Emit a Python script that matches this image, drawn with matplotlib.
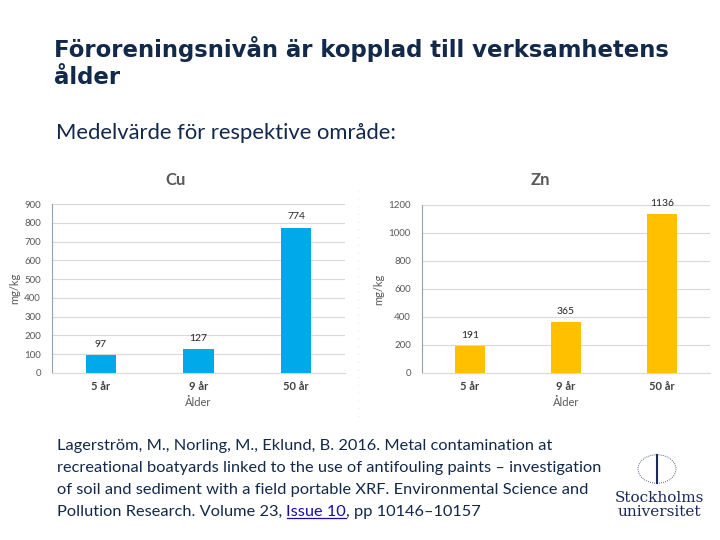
import matplotlib
matplotlib.use("Agg")
import matplotlib.pyplot as plt
from matplotlib.lines import Line2D
from matplotlib.patches import Circle

categories = ["5 år", "9 år", "50 år"]
cu_values = [97, 127, 774]
zn_values = [191, 365, 1136]
cu_ticks = [0, 100, 200, 300, 400, 500, 600, 700, 800, 900]
zn_ticks = [0, 200, 400, 600, 800, 1000, 1200]

W, H = 720, 540
fig = plt.figure(figsize=(7.2, 5.4), dpi=100)
fig.patch.set_facecolor("white")

navy = "#12294a"
gray = "#595959"


def px(x, y):
    return x / W, 1 - y / H


# Title and subtitle
fig.text(*px(54, 49), "Föroreningsnivån är kopplad till verksamhetens",
         fontsize=16.4, fontweight="bold", color=navy, family="DejaVu Sans", va="center")
fig.text(*px(54, 77), "ålder",
         fontsize=16.4, fontweight="bold", color=navy, family="DejaVu Sans", va="center")
fig.text(*px(56, 133), "Medelvärde för respektive område:",
         fontsize=15.8, color=navy, family="Lato", va="center")


def bar_chart(rect, values, ticks, color, title, title_x):
    ax = fig.add_axes(rect)
    x = list(range(len(categories)))
    bars = ax.bar(x, values, width=0.31, color=color, zorder=3)
    ax.set_xlim(-0.5, len(categories) - 0.5)
    ax.set_ylim(ticks[0], ticks[-1])
    ax.set_yticks(ticks)
    ax.set_yticklabels([str(t) for t in ticks], fontsize=7, color=gray, family="Lato")
    ax.set_xticks(x)
    ax.set_xticklabels(categories, fontsize=8, fontweight="bold", color="#404040", family="Lato")
    ax.tick_params(axis="y", length=0, pad=8)
    ax.tick_params(axis="x", length=0, pad=6)
    ax.grid(axis="y", color="#d9d9d9", linewidth=0.8, zorder=0)
    for s in ["top", "right"]:
        ax.spines[s].set_visible(False)
    ax.spines["left"].set_color("#8ea2b8")
    ax.spines["left"].set_linewidth(0.8)
    ax.spines["bottom"].set_color("#d9d9d9")
    ax.spines["bottom"].set_linewidth(0.8)
    for b, v in zip(bars, values):
        ax.annotate(str(v), (b.get_x() + b.get_width() / 2, v), xytext=(0, 4.5),
                    textcoords="offset points", ha="center", va="bottom",
                    fontsize=7.5, color="#262626", family="Lato")
    ax.set_ylabel("mg/kg", fontsize=8, color=gray, family="Lato", labelpad=3)
    ax.set_xlabel("Ålder", fontsize=8, color=gray, family="Lato", labelpad=3)
    fig.text(*px(title_x, 180), title, fontsize=12, fontweight="bold", color=gray,
             family="Lato", ha="center", va="center")
    return ax


l, b = px(52, 373)
_, t = px(52, 204)
bar_chart([l, b, (345 - 52) / W, t - b], cu_values, cu_ticks, "#00aaea", "Cu", 176)
l2, b2 = px(422, 373)
_, t2 = px(422, 205)
bar_chart([l2, b2, (710 - 422) / W, t2 - b2], zn_values, zn_ticks, "#ffc000", "Zn", 540)

# faint dotted separator
fig.add_artist(Line2D([358 / W, 358 / W], [1 - 190 / H, 1 - 420 / H], color="#e6e6e6",
                      linewidth=0.8, linestyle=(0, (1, 6))))

# Citation
fs = 11.8
cite_lines = [
    "Lagerström, M., Norling, M., Eklund, B. 2016. Metal contamination at",
    "recreational boatyards linked to the use of antifouling paints – investigation",
    "of soil and sediment with a field portable XRF. Environmental Science and",
]
for i, line in enumerate(cite_lines):
    fig.text(*px(57, 446 + 22 * i), line, fontsize=fs, color=navy, family="Lato", va="center")

y_last = 446 + 22 * 3
t_a = fig.text(*px(57, y_last), "Pollution Research. Volume 23, ", fontsize=fs, color=navy,
               family="Lato", va="center")
fig.canvas.draw()
r = fig.canvas.get_renderer()
bb = t_a.get_window_extent(r)
t_b = fig.text(bb.x1 / W, 1 - y_last / H, "Issue 10", fontsize=fs, color="#1a0dab",
               family="Lato", va="center")
bb2 = t_b.get_window_extent(r)
fig.add_artist(Line2D([bb2.x0 / W, bb2.x1 / W], [(bb2.y0 + 1) / H, (bb2.y0 + 1) / H],
                      color="#1a0dab", linewidth=0.9))
fig.text(bb2.x1 / W, 1 - y_last / H, ", pp 10146–10157", fontsize=fs, color=navy,
         family="Lato", va="center")

# Logo
cx, cy = px(657, 469)
fig.add_artist(Circle((cx, cy), 19 / W, transform=fig.transFigure, fill=False,
                      edgecolor="#1b2a5a", linewidth=0.6, linestyle=(0, (1, 1.5))))
fig.add_artist(Line2D([cx, cx], [cy - 14 / H, cy + 14 / H], color="#1b2a5a", linewidth=1.5))
fig.text(*px(659, 505), "Stockholms\nuniversitet", fontsize=11, family="DejaVu Serif",
         color="#1b2a5a", ha="center", va="center", linespacing=1.0)

fig.savefig("out.png", dpi=100)
